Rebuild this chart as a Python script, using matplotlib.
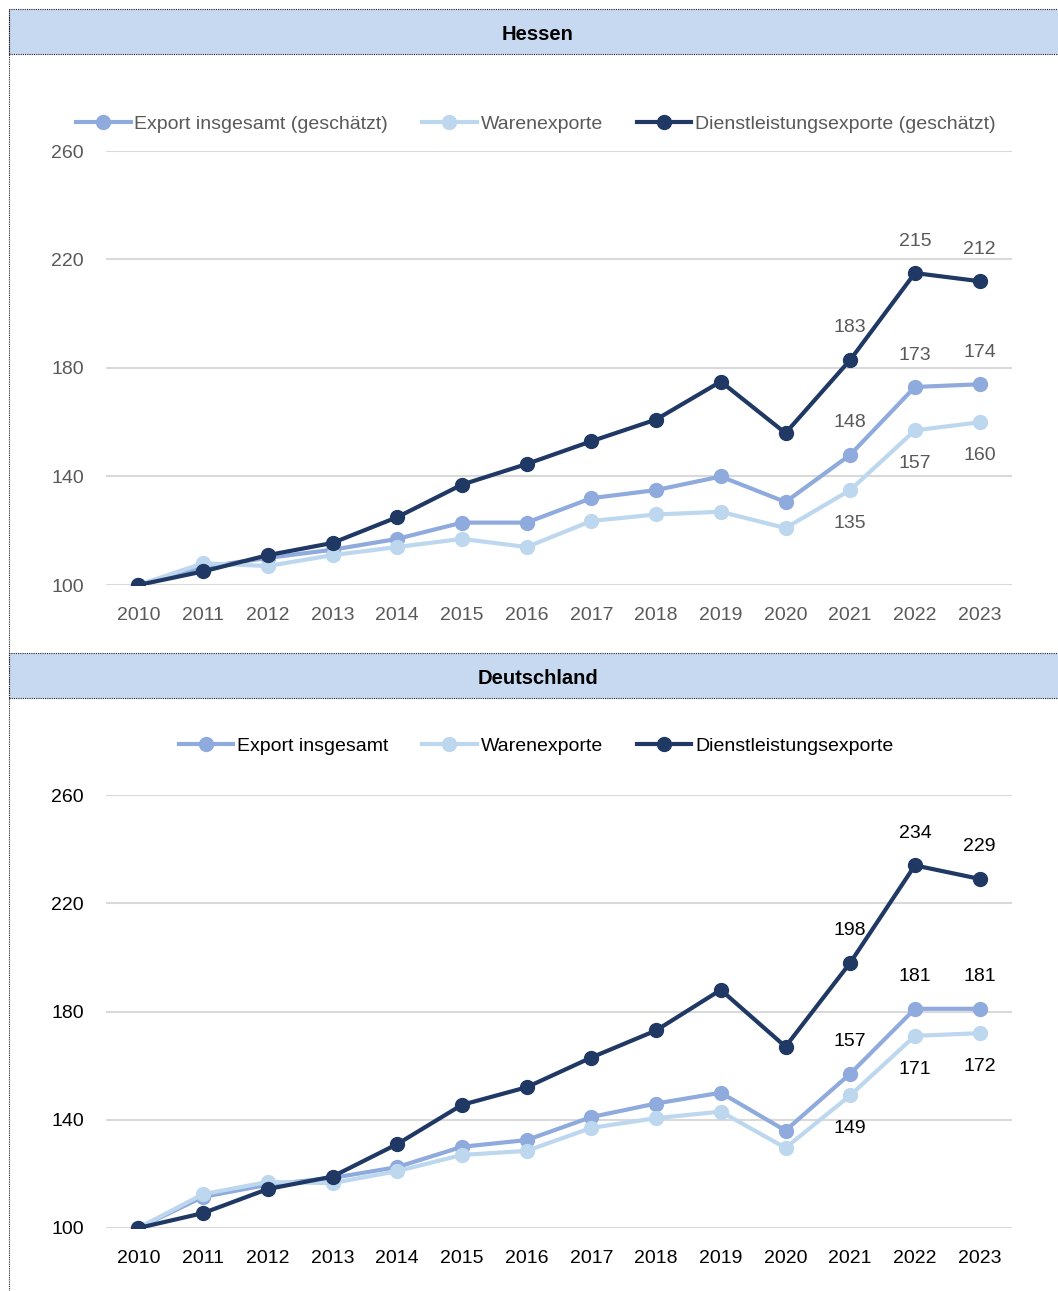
import matplotlib.pyplot as plt
from matplotlib.patches import Rectangle
from matplotlib.lines import Line2D

plt.rcParams['font.family'] = ['Liberation Sans', 'DejaVu Sans']

years = [str(y) for y in range(2010, 2024)]

# Hessen (2010 = 100)
he_total = [100, 106.6, 110, 113, 117, 123, 123, 132, 135, 140, 130.6, 148, 173, 174]
he_goods = [100, 108, 107, 111, 114, 117, 114, 123.6, 126, 127, 121, 135, 157, 160]
he_serv = [100, 105, 111, 115.5, 125, 137, 144.6, 153, 161, 175, 156, 183, 215, 212]

# Deutschland (2010 = 100)
de_total = [100, 111.5, 116, 118.5, 122.5, 130, 132.5, 141, 146, 150, 136, 157, 181, 181]
de_goods = [100, 112.5, 117, 116.6, 121, 127, 128.5, 137, 140.6, 143, 129.6, 149, 171, 172]
de_serv = [100, 105.5, 114.4, 119, 131, 145.5, 152, 163, 173, 188, 167, 198, 234, 229]

labeled_idx = [11, 12, 13]

c_total = '#8FAADC'
c_goods = '#BDD7EE'
c_serv = '#1F3864'
band = '#C6D9F0'

W, H = 1058, 1291
fig = plt.figure(figsize=(W / 100, H / 100), dpi=100)


def fx(x):
    return x / W


def fy(y):
    return 1 - y / H


# header bands with dotted outline
for top, title in [(9, 'Hessen'), (653, 'Deutschland')]:
    fig.patches.append(Rectangle((fx(9), fy(top + 45)), 1.02, 45 / H,
                                 transform=fig.transFigure, facecolor=band,
                                 edgecolor='#222222', linestyle=(0, (1, 1)),
                                 linewidth=0.8, clip_on=False))
    fig.text(fx(538), fy(top + 25), title, ha='center', va='center',
             fontsize=14.5, fontweight='bold', color='black')

fig.lines.append(Line2D([fx(9), fx(9)], [0, fy(9)], transform=fig.transFigure,
                        color='#222222', linestyle=(0, (1, 1)), linewidth=0.8))


def panel(rect, total, goods, serv, names, txt_color, leg_y):
    ax = fig.add_axes(rect)
    x = range(len(years))
    ax.plot(x, total, color=c_total, lw=3, marker='o', ms=10, label=names[0], zorder=3)
    ax.plot(x, goods, color=c_goods, lw=3, marker='o', ms=10, label=names[1], zorder=4)
    ax.plot(x, serv, color=c_serv, lw=3, marker='o', ms=10, label=names[2], zorder=5)

    ax.set_ylim(100, 260)
    ax.set_yticks([100, 140, 180, 220, 260])
    ax.set_xlim(-0.5, 13.5)
    ax.set_xticks(list(x))
    ax.set_xticklabels(years)
    ax.grid(axis='y', color='#D9D9D9', lw=1.5)
    ax.set_axisbelow(True)
    for s in ax.spines.values():
        s.set_visible(False)
    ax.tick_params(length=0, labelsize=14, labelcolor=txt_color)
    ax.tick_params(axis='y', pad=16)
    ax.tick_params(axis='x', pad=16)

    # data labels: dark and mid above, light below
    for i in labeled_idx:
        for vals, dy in [(serv, 23), (total, 23), (goods, -24)]:
            ax.annotate(f'{vals[i]:.0f}', (i, vals[i]), xytext=(0, dy),
                        textcoords='offset points', ha='center', va='center',
                        fontsize=14, color=txt_color)

    leg = ax.legend(loc='center', bbox_to_anchor=(fx(536), fy(leg_y)),
                    bbox_transform=fig.transFigure, ncol=3, frameon=False,
                    fontsize=14, handlelength=2.8, handletextpad=0.2,
                    columnspacing=1.75, borderaxespad=0)
    for t in leg.get_texts():
        t.set_color(txt_color)
    return ax


panel([fx(106), fy(585), (1012 - 106) / W, (585 - 151) / H],
      he_total, he_goods, he_serv,
      ['Export insgesamt (geschätzt)', 'Warenexporte', 'Dienstleistungsexporte (geschätzt)'],
      '#595959', 124)
panel([fx(106), fy(1228), (1012 - 106) / W, (1228 - 795) / H],
      de_total, de_goods, de_serv,
      ['Export insgesamt', 'Warenexporte', 'Dienstleistungsexporte'],
      'black', 746)

fig.savefig('out.png', dpi=100)
